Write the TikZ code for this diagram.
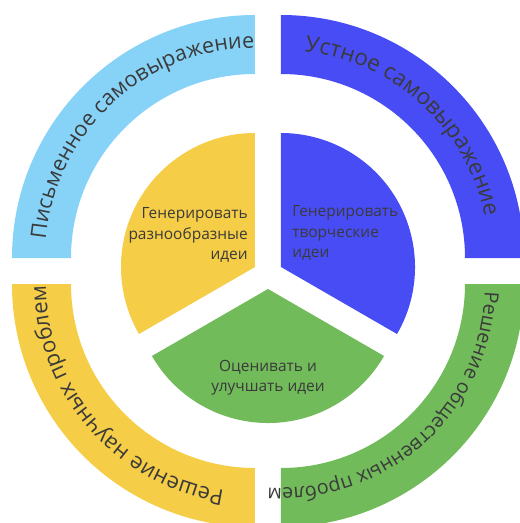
\documentclass[tikz,border=0pt]{standalone}
\usepackage{fontspec}
\setmainfont{Open Sans}
\usetikzlibrary{decorations.text}

\definecolor{skyblue}{RGB}{135,211,248}
\definecolor{royalblue}{RGB}{72,76,245}
\definecolor{sunyellow}{RGB}{245,205,70}
\definecolor{leafgreen}{RGB}{114,187,91}
\definecolor{inktext}{RGB}{58,58,58}

\tikzset{
  ringlabel/.style 2 args={decorate, decoration={text along path, text align=center,
      text color=inktext, text={|\fontsize{#1}{#1}\selectfont|#2}}},
  idea/.style={font=\fontsize{11}{14.5}\selectfont, text=inktext, inner sep=0pt},
}

\begin{document}
\begin{tikzpicture}[scale=0.025]
  \clip (-268,-252) rectangle (252,271);
  % outer ring
  \fill[skyblue, shift={(-13,13)}] (90:243) arc[start angle=90, end angle=180, radius=243]
        -- (180:184) arc[start angle=180, end angle=90, radius=184] -- cycle;
  \fill[royalblue, shift={(13,13)}] (0:243) arc[start angle=0, end angle=90, radius=243]
        -- (90:184) arc[start angle=90, end angle=0, radius=184] -- cycle;
  \fill[sunyellow, shift={(-13,-13)}] (180:243) arc[start angle=180, end angle=270, radius=243]
        -- (270:184) arc[start angle=270, end angle=180, radius=184] -- cycle;
  \fill[leafgreen, shift={(13,-13)}] (270:243) arc[start angle=270, end angle=360, radius=243]
        -- (360:184) arc[start angle=360, end angle=270, radius=184] -- cycle;
  \path[ringlabel={15.3}{Письменное самовыражение}, shift={(-13,13)}]
        (192.5:210) arc[start angle=192.5, end angle=72.5, radius=210];
  \path[ringlabel={16}{Устное самовыражение}, shift={(13,13)}]
        (107.5:208) arc[start angle=107.5, end angle=-12.5, radius=208];
  \path[ringlabel={15.6}{Решение научных проблем}, shift={(-13,-13)}]
        (281:209) arc[start angle=281, end angle=161, radius=209];
  \path[ringlabel={14}{Решение общественных проблем}, shift={(13,-13)}]
        (372:204) arc[start angle=372, end angle=252, radius=204];
  % inner pie
  \fill[sunyellow] (-13,4) -- ++(90:134) arc[start angle=90, end angle=210, radius=134] -- cycle;
  \fill[royalblue] (13,4) -- ++(-30:134) arc[start angle=-30, end angle=90, radius=134] -- cycle;
  \fill[leafgreen] (0,-18) -- ++(210:134) arc[start angle=210, end angle=330, radius=134] -- cycle;
  \node[idea, anchor=east, align=right] (varied) at (-20,36) {Генерировать\\разнообразные\\идеи};
  \node[idea, anchor=west, align=left] (creative) at (24,38) {Генерировать\\творческие\\идеи};
  \node[idea, align=center] (improve) at (0,-107) {Оценивать и\\улучшать идеи};
\end{tikzpicture}
\end{document}
